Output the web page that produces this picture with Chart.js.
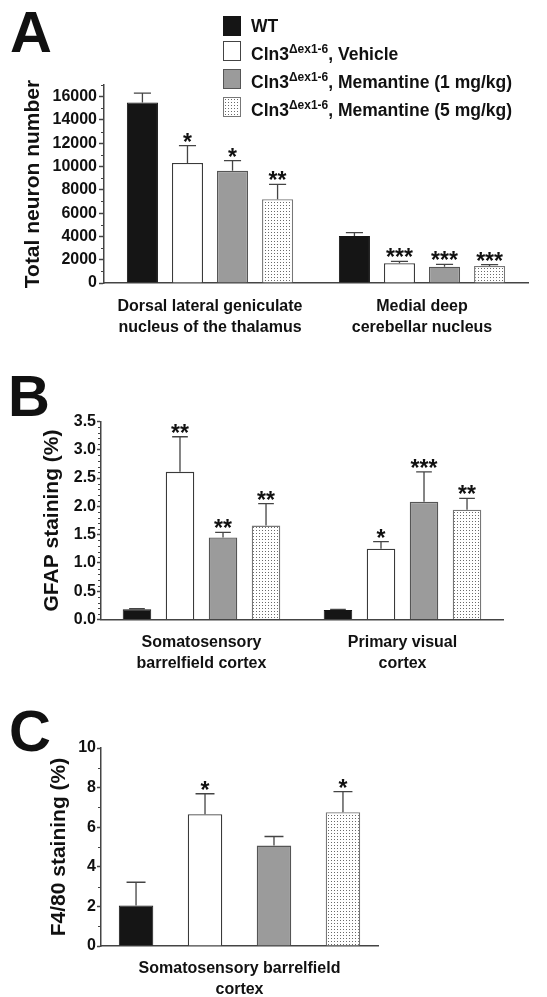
<!DOCTYPE html>
<html><head><meta charset="utf-8">
<script src="https://cdn.jsdelivr.net/npm/chart.js@4"></script>
<style>
html,body{margin:0;padding:0;background:#fff;}
body{width:547px;height:997px;position:relative;overflow:hidden;font-family:"Liberation Sans",Arial,sans-serif;color:#111;}
canvas{position:absolute;left:0;}
.lab{position:absolute;font-weight:bold;font-size:58px;line-height:58px;z-index:5;}
.leg{position:absolute;left:251px;font-weight:bold;font-size:17.5px;line-height:20px;white-space:nowrap;z-index:5;}
.sw{position:absolute;left:223px;width:16px;height:18px;border:1px solid #444;z-index:5;box-sizing:content-box;}
.d{font-size:12px;position:relative;top:-7px;}
</style></head><body>
<canvas id="cA" width="547" height="335" style="top:0;width:547px;height:335px"></canvas>
<canvas id="cB" width="547" height="330" style="top:340px;width:547px;height:330px"></canvas>
<canvas id="cC" width="547" height="327" style="top:670px;width:547px;height:327px"></canvas>
<div class="lab" style="left:10px;top:3px">A</div>
<div class="lab" style="left:8px;top:367px">B</div>
<div class="lab" style="left:9px;top:702px">C</div>
<div class="sw" id="sw0" style="top:16px;background:#151515;border-color:#151515"></div>
<div class="sw" id="sw1" style="top:41px;background:#fff"></div>
<div class="sw" id="sw2" style="top:69px;background:#9b9b9b;border-color:#555"></div>
<div class="sw" id="sw3" style="top:97px;border-color:#777"></div>
<div class="leg" style="top:16px">WT</div>
<div class="leg" style="top:44px">Cln3<span class="d">Δex1-6</span>, Vehicle</div>
<div class="leg" style="top:72px">Cln3<span class="d">Δex1-6</span>, Memantine (1 mg/kg)</div>
<div class="leg" style="top:100px">Cln3<span class="d">Δex1-6</span>, Memantine (5 mg/kg)</div>
<script>
// ---------- DATA ----------
const seriesNames = ['WT', 'Cln3Δex1-6, Vehicle', 'Cln3Δex1-6, Memantine (1 mg/kg)', 'Cln3Δex1-6, Memantine (5 mg/kg)'];

// Panel A: total neuron number
const categoriesA = [['Dorsal lateral geniculate', 'nucleus of the thalamus'], ['Medial deep', 'cerebellar nucleus']];
const wtA = [15500, 4040];      const wtA_sem = [810, 285];
const vehA = [10300, 1695];     const vehA_sem = [1500, 170];
const mem1A = [9630, 1405];     const mem1A_sem = [870, 200];
const mem5A = [7200, 1460];     const mem5A_sem = [1260, 115];
const wtA_stars = ['', ''];     const vehA_stars = ['*', '***'];
const mem1A_stars = ['*', '***']; const mem5A_stars = ['**', '***'];
const yTicksA = [0, 2000, 4000, 6000, 8000, 10000, 12000, 14000, 16000];

// Panel B: GFAP staining (%)
const categoriesB = [['Somatosensory', 'barrelfield cortex'], ['Primary visual', 'cortex']];
const wtB = [0.18, 0.17];       const wtB_sem = [0.01, 0.01];
const vehB = [2.61, 1.25];      const vehB_sem = [0.62, 0.125];
const mem1B = [1.45, 2.08];     const mem1B_sem = [0.09, 0.53];
const mem5B = [1.66, 1.94];     const mem5B_sem = [0.39, 0.20];
const wtB_stars = ['', ''];     const vehB_stars = ['**', '*'];
const mem1B_stars = ['**', '***']; const mem5B_stars = ['**', '**'];
const yTicksB = [0, 0.5, 1.0, 1.5, 2.0, 2.5, 3.0, 3.5];

// Panel C: F4/80 staining (%)
const categoriesC = [['Somatosensory barrelfield', 'cortex']];
const wtC = [2.04];   const wtC_sem = [1.18];
const vehC = [6.66];  const vehC_sem = [1.03];
const mem1C = [5.07]; const mem1C_sem = [0.46];
const mem5C = [6.76]; const mem5C_sem = [1.04];
const wtC_stars = ['']; const vehC_stars = ['*']; const mem1C_stars = ['']; const mem5C_stars = ['*'];
const yTicksC = [0, 2, 4, 6, 8, 10];

// ---------- STYLE ----------
const FONT = '"Liberation Sans", Arial, sans-serif';
Chart.defaults.font.family = FONT;
const axisC = '#444';
const pc = document.createElement('canvas'); pc.width = 3; pc.height = 3;
const pctx = pc.getContext('2d');
pctx.fillStyle = '#fff'; pctx.fillRect(0, 0, 3, 3);
pctx.fillStyle = '#6a6a6a'; pctx.fillRect(1, 1, 1, 1);
const dotPattern = pctx.createPattern(pc, 'repeat');
document.getElementById('sw3').style.background = 'url(' + pc.toDataURL() + ')';

const fills = ['#151515', '#ffffff', '#9b9b9b', dotPattern];
const borders = ['#151515', '#3a3a3a', '#555555', '#777777'];
const bws = [1, 1.3, 1.3, 1.3];

const decor = {
  id: 'decor',
  afterDatasetsDraw(chart) {
    const ctx = chart.ctx, y = chart.scales.y;
    chart.data.datasets.forEach((ds, i) => {
      const meta = chart.getDatasetMeta(i);
      meta.data.forEach((bar, j) => {
        const yTop = y.getPixelForValue(ds.data[j] + ds.sem[j]);
        const w = bar.width * 0.55;
        ctx.save();
        ctx.strokeStyle = '#444'; ctx.lineWidth = 1.3;
        ctx.beginPath();
        ctx.moveTo(bar.x, bar.y); ctx.lineTo(bar.x, yTop);
        ctx.moveTo(bar.x - w / 2, yTop); ctx.lineTo(bar.x + w / 2, yTop);
        ctx.stroke();
        const s = ds.stars[j];
        if (s) {
          ctx.fillStyle = '#111';
          ctx.font = 'bold 23px ' + FONT;
          ctx.textAlign = 'center'; ctx.textBaseline = 'alphabetic';
          ctx.fillText(s, bar.x, yTop + 4);
        }
        ctx.restore();
      });
    });
  },
  afterDraw(chart, args, opts) {
    const ctx = chart.ctx, y = chart.scales.y, x0 = chart.chartArea.left;
    const majors = opts.majors;
    ctx.save(); ctx.strokeStyle = axisC; ctx.lineWidth = 1;
    ctx.beginPath();
    const n = Math.round(opts.max / opts.minor);
    for (let k = 1; k <= n; k++) {
      const v = k * opts.minor;
      if (majors.some(m => Math.abs(m - v) < 1e-9)) continue;
      const py = Math.round(y.getPixelForValue(v)) + 0.5;
      ctx.moveTo(x0 - 3, py); ctx.lineTo(x0, py);
    }
    ctx.stroke(); ctx.restore();
  }
};

function makeChart(id, cfg) {
  return new Chart(document.getElementById(id), {
    type: 'bar',
    data: {
      labels: cfg.labels,
      datasets: cfg.series.map((s, k) => ({
        label: seriesNames[k], data: s[0], sem: s[1], stars: s[2],
        backgroundColor: fills[k], borderColor: borders[k], borderWidth: bws[k],
        categoryPercentage: cfg.cat, barPercentage: cfg.bar
      }))
    },
    options: {
      responsive: false, animation: false, events: [],
      layout: { padding: cfg.pad },
      plugins: { legend: { display: false }, tooltip: { enabled: false },
        decor: { minor: cfg.minor, max: cfg.max, majors: cfg.ticks } },
      scales: {
        x: {
          grid: { display: false },
          border: { display: true, color: axisC, width: 1.5 },
          ticks: { color: '#111', font: { size: 16, weight: 'bold', lineHeight: 1.3 }, padding: cfg.xpad, maxRotation: 0, autoSkip: false },
          afterFit: s => { s.height = cfg.xh; }
        },
        y: {
          min: 0, max: cfg.max,
          afterBuildTicks: s => { s.ticks = cfg.ticks.map(v => ({ value: v })); },
          grid: { display: true, drawOnChartArea: false, drawTicks: true, tickLength: cfg.tl, tickColor: axisC, tickWidth: 1.5 },
          border: { display: true, color: axisC, width: 1.5 },
          ticks: { color: '#111', font: { size: 16, weight: 'bold' }, padding: cfg.ypad, callback: cfg.fmt },
          title: { display: true, text: cfg.title, color: '#111', font: { size: 21, weight: 'bold' }, padding: 0 },
          afterFit: s => { s.width = cfg.yw; }
        }
      }
    },
    plugins: [decor]
  });
}

makeChart('cA', {
  labels: categoriesA,
  series: [[wtA, wtA_sem, wtA_stars], [vehA, vehA_sem, vehA_stars], [mem1A, mem1A_sem, mem1A_stars], [mem5A, mem5A_sem, mem5A_stars]],
  cat: 0.85, bar: 0.69, max: 17000, minor: 1000, ticks: yTicksA, fmt: v => String(v),
  title: 'Total neuron number', pad: { top: 85, left: 21, right: 19, bottom: 0 },
  xh: 52, yw: 83, xpad: 5, ypad: 2, tl: 5
});
makeChart('cB', {
  labels: categoriesB,
  series: [[wtB, wtB_sem, wtB_stars], [vehB, vehB_sem, vehB_stars], [mem1B, mem1B_sem, mem1B_stars], [mem5B, mem5B_sem, mem5B_stars]],
  cat: 0.856, bar: 0.663, max: 3.5, minor: 0.1, ticks: yTicksB, fmt: v => Number(v).toFixed(1),
  title: 'GFAP staining (%)', pad: { top: 81.5, left: 39.4, right: 44, bottom: 0 },
  xh: 50.5, yw: 61.6, xpad: 4.6, ypad: 1, tl: 4
});
makeChart('cC', {
  labels: categoriesC,
  series: [[wtC, wtC_sem, wtC_stars], [vehC, vehC_sem, vehC_stars], [mem1C, mem1C_sem, mem1C_stars], [mem5C, mem5C_sem, mem5C_stars]],
  cat: 0.996, bar: 0.5, max: 10, minor: 1, ticks: yTicksC, fmt: v => String(v),
  title: 'F4/80 staining (%)', pad: { top: 78, left: 46.4, right: 169, bottom: 0 },
  xh: 51, yw: 54.6, xpad: 4, ypad: 1, tl: 4
});
</script>
</body></html>
